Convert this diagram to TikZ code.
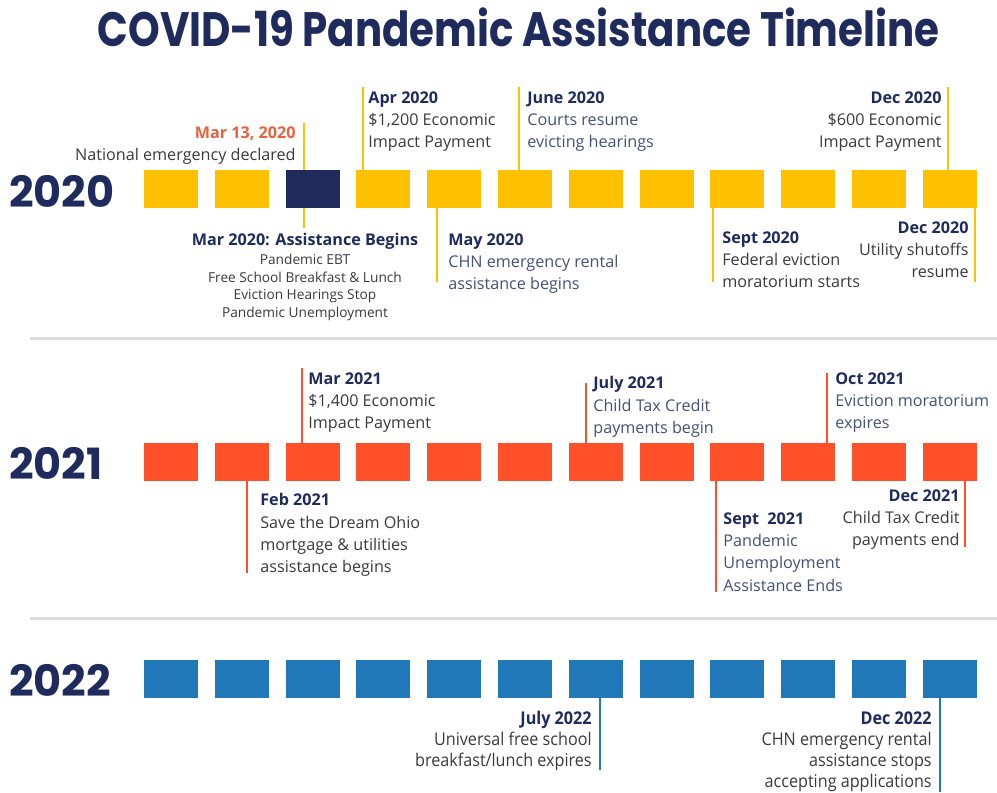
\documentclass[tikz,border=0pt]{standalone}
\usepackage{fontspec}
\setmainfont{Open Sans}
\newfontfamily\headfont{Poppins}
\newfontfamily\titlefont{Poppins}[FakeStretch=0.835]
\newfontfamily\narrowfont{Open Sans}[FakeStretch=0.92]
\usepackage{xcolor}
\definecolor{navy}{HTML}{1E2B5C}
\definecolor{gold}{HTML}{FFC000}
\definecolor{redorange}{HTML}{FF5029}
\definecolor{steel}{HTML}{2178B8}
\definecolor{marred}{HTML}{E8613D}
\definecolor{txtgray}{HTML}{3A3A3A}
\definecolor{txtblue}{HTML}{45507A}
\definecolor{rulegray}{HTML}{DCDCDC}
\newcommand{\datehead}[1]{\textcolor{navy}{\bfseries #1}}

\begin{document}
\begin{tikzpicture}[x=0.02cm,y=-0.02cm,
	month/.style={minimum width=1.08cm,minimum height=0.76cm,inner sep=0,outer sep=0},
	tick/.style={line width=1.5pt},
	event/.style={inner sep=0,font=\fontsize{9.2pt}{12.75pt}\selectfont},
	year/.style={inner sep=0,anchor=west,text=navy,font=\headfont\bfseries\fontsize{24.5pt}{26pt}\selectfont}]
		\useasboundingbox (0,0) rectangle (997,792);
		%%Title
		\node[anchor=base,text=navy,font=\titlefont\bfseries\fontsize{27.5pt}{30pt}\selectfont] (title) at (518.5,46) {COVID-19 Pandemic Assistance Timeline};
		%%Rules
		\draw[rulegray,line width=1.7pt] (30,338) -- (997,338);
		\draw[rulegray,line width=1.7pt] (30,618) -- (997,618);
		%%Years
		\node[year] (y20) at (9,191) {2020};
		\node[year] (y21) at (9,463) {2021};
		\node[year] (y22) at (9,680) {2022};
		%%Months
		\foreach \i in {1,...,12}{
			\node[month,fill=gold] (a\i) at ({171+70.8*(\i-1)},189) {};
			\node[month,fill=redorange] (b\i) at ({171+70.8*(\i-1)},462) {};
			\node[month,fill=steel] (c\i) at ({171+70.8*(\i-1)},679) {};
		}
		\fill[navy] (a3.south west) rectangle (a3.north east);
		
		%%2020
		\coordinate (m13t) at (304,123);
		\coordinate (m13b) at (304,228);
		\coordinate (apr20) at (363,87);
		\coordinate (may20) at (437,282);
		\coordinate (jun20) at (519,87);
		\coordinate (sep20) at (713,282);
		\coordinate (dec20t) at (948,87);
		\coordinate (dec20b) at (975,282);
		\draw[tick,gold] (m13t) -- (m13t |- a3.north);
		\draw[tick,gold] (m13b) -- (m13b |- a3.south);
		\draw[tick,gold] (apr20) -- (apr20 |- a4.north);
		\draw[tick,gold] (may20) -- (may20 |- a5.south);
		\draw[tick,gold] (jun20) -- (jun20 |- a6.north);
		\draw[tick,gold] (sep20) -- (sep20 |- a9.south);
		\draw[tick,gold] (dec20t) -- (dec20t |- a12.north);
		\draw[tick,gold] (dec20b) -- (dec20b |- a12.south);
		
		\node[event,anchor=north east,align=right,text=txtgray] (mar13) at (296,126) {\textcolor{marred}{\bfseries Mar 13, 2020}\\National emergency declared};
		\node[event,anchor=north,text=navy,font=\bfseries\fontsize{9.2pt}{12pt}\selectfont] (mar20) at (305,233) {Mar 2020: Assistance Begins};
		\node[inner sep=0,anchor=north,align=center,text=txtgray,font=\fontsize{7.8pt}{10pt}\selectfont] (mar20l) at (305,254) {Pandemic EBT\\Free School Breakfast \& Lunch\\Eviction Hearings Stop\\Pandemic Unemployment};
		\node[event,anchor=north west,align=left,text=txtgray] (apr20l) at (368,91) {\datehead{Apr 2020}\\\$1,200 Economic\\Impact Payment};
		\node[event,anchor=north west,align=left,text=txtblue] (may20l) at (448,233) {\datehead{May 2020}\\CHN emergency rental\\assistance begins};
		\node[event,anchor=north west,align=left,text=txtblue] (jun20l) at (527,91) {\datehead{June 2020}\\Courts resume\\evicting hearings};
		\node[event,anchor=north west,align=left,text=txtgray] (sep20l) at (722,231) {\datehead{Sept 2020}\\Federal eviction\\moratorium starts};
		\node[event,anchor=north east,align=right,text=txtgray] (dec20tl) at (942,91) {\datehead{Dec 2020}\\\$600 Economic\\Impact Payment};
		\node[event,anchor=north east,align=right,text=txtgray] (dec20bl) at (969,221) {\datehead{Dec 2020}\\Utility shutoffs\\resume};
		
		%%2021
		\coordinate (feb21) at (247,573);
		\coordinate (mar21) at (302,368);
		\coordinate (jul21) at (586,383);
		\coordinate (sep21) at (716,592);
		\coordinate (oct21) at (827,373);
		\coordinate (dec21) at (965,547);
		\draw[tick,redorange] (feb21) -- (feb21 |- b2.south);
		\draw[tick,redorange] (mar21) -- (mar21 |- b3.north);
		\draw[tick,redorange] (jul21) -- (jul21 |- b7.north);
		\draw[tick,redorange] (sep21) -- (sep21 |- b9.south);
		\draw[tick,redorange] (oct21) -- (oct21 |- b10.north);
		\draw[tick,redorange] (dec21) -- (dec21 |- b12.south);
		
		\node[event,anchor=north west,align=left,text=txtgray] (mar21l) at (308,372) {\datehead{Mar 2021}\\\$1,400 Economic\\Impact Payment};
		\node[event,anchor=north west,align=left,text=txtgray] (feb21l) at (260,493) {\datehead{Feb 2021}\\Save the Dream Ohio\\mortgage \& utilities\\assistance begins};
		\node[event,anchor=north west,align=left,text=txtblue] (jul21l) at (593,376) {\datehead{July 2021}\\Child Tax Credit\\payments begin};
		\node[event,anchor=north west,align=left,text=txtblue] (oct21l) at (835,372) {\datehead{Oct 2021}\\Eviction moratorium\\expires};
		\node[event,anchor=north west,align=left,text=txtblue] (sep21l) at (723,512) {\datehead{Sept\ \ 2021}\\Pandemic\\Unemployment\\Assistance Ends};
		\node[event,anchor=north east,align=right,text=txtgray] (dec21l) at (960,489) {\datehead{Dec 2021}\\Child Tax Credit\\payments end};
		
		%%2022
		\coordinate (jul22) at (600,770);
		\coordinate (dec22) at (940,792);
		\draw[tick,steel] (jul22) -- (jul22 |- c7.south);
		\draw[tick,steel] (dec22) -- (dec22 |- c12.south);
		
		\node[event,anchor=north east,align=right,text=txtgray,font=\narrowfont] (jul22l) at (592,711) {\datehead{July 2022}\\Universal free school\\breakfast/lunch expires};
		\node[event,anchor=north east,align=right,text=txtgray,font=\narrowfont] (dec22l) at (932,711) {\datehead{Dec 2022}\\CHN emergency rental\\assistance stops\\accepting applications};
\end{tikzpicture}
\end{document}
